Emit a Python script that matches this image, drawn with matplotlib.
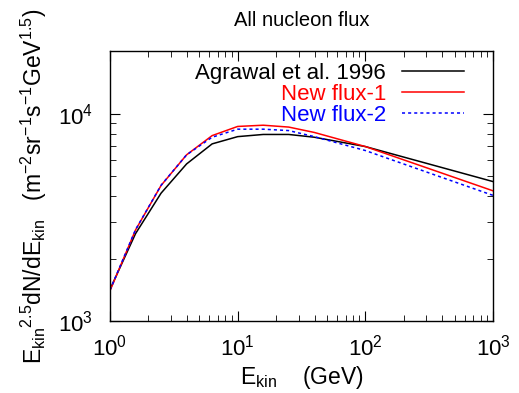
import numpy as np
import matplotlib
matplotlib.use("Agg")
import matplotlib.pyplot as plt
from matplotlib.ticker import LogLocator, NullFormatter

plt.rcParams["font.family"] = ["Liberation Sans", "DejaVu Sans"]
plt.rcParams["mathtext.fontset"] = "custom"
plt.rcParams["mathtext.rm"] = "Liberation Sans"
plt.rcParams["mathtext.it"] = "Liberation Sans"

# energies (GeV)
energy = [1.0, 1.585, 2.512, 3.981, 6.31, 10.0, 15.85, 25.12, 39.81, 100.0, 1000.0]
# E^2.5 dN/dE
agrawal = [1420, 2640, 4140, 5730, 7160, 7760, 7950, 7950, 7710, 6950, 4710]
new_flux1 = [1400, 2750, 4510, 6340, 7850, 8690, 8810, 8630, 8130, 6950, 4250]
new_flux2 = [1410, 2760, 4520, 6340, 7710, 8430, 8430, 8300, 7760, 6650, 4040]

fig = plt.figure(figsize=(5.19, 3.93), dpi=100)
ax = fig.add_axes([110 / 519, 72 / 393, 383 / 519, 270 / 393])

ax.plot(energy, agrawal, color="black", lw=1.1, label="Agrawal et al. 1996")
ax.plot(energy, new_flux1, color="red", lw=1.1, label="New flux-1")
ax.plot(energy, new_flux2, color="blue", lw=1.1, ls=(0, (2, 2)), label="New flux-2")

ax.set_xscale("log")
ax.set_yscale("log")
ax.set_xlim(1, 1000)
ax.set_ylim(1000, 20100)

ax.xaxis.set_minor_locator(LogLocator(base=10, subs=np.arange(2, 10)))
ax.yaxis.set_minor_locator(LogLocator(base=10, subs=np.arange(2, 10)))
ax.yaxis.set_minor_formatter(NullFormatter())
ax.tick_params(which="both", direction="in", top=True, right=True)
ax.tick_params(which="major", length=7, labelsize=16)
ax.tick_params(axis="x", which="major", pad=10)
ax.tick_params(axis="y", which="major", pad=12)
ax.tick_params(which="minor", length=4)
for s in ax.spines.values():
    s.set_linewidth(1.0)

ax.set_title("All nucleon flux", fontsize=14.5, pad=18)
ax.set_xlabel(r"E$_{\rm kin}$    (GeV)", fontsize=16.5, labelpad=2)
ax.set_ylabel(r"E$_{\rm kin}$$^{2.5}$dN/dE$_{\rm kin}$   (m$^{-2}$sr$^{-1}$s$^{-1}$GeV$^{1.5}$)",
              fontsize=16.5, labelpad=7)

ax.legend(loc="upper right", frameon=False, markerfirst=False, fontsize=16,
          labelcolor="linecolor", handlelength=2.8, handletextpad=0.7,
          labelspacing=0.0, borderaxespad=0.0, bbox_to_anchor=(0.947, 0.99))

fig.savefig("out.png", dpi=100)
